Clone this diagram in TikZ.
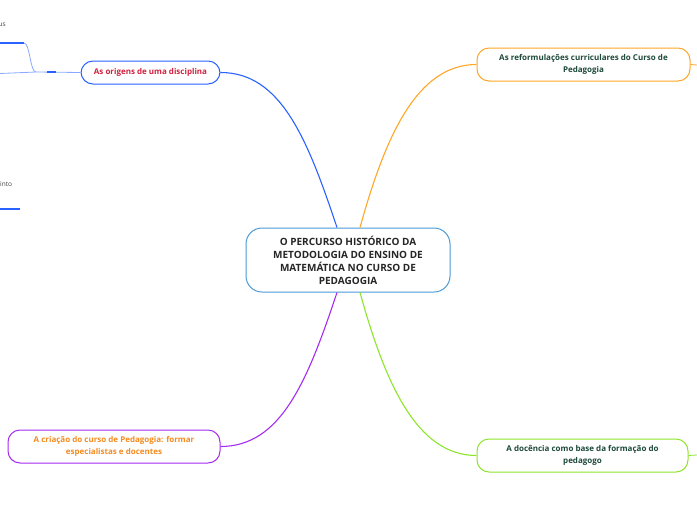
\documentclass[tikz,border=0pt]{standalone}
\usepackage{fontspec}
\setmainfont{Open Sans}
\definecolor{rootline}{HTML}{4A9AD8}
\definecolor{azul}{HTML}{2962FF}
\definecolor{azulclaro}{HTML}{8AA8FF}
\definecolor{laranja}{HTML}{FFA726}
\definecolor{verde}{HTML}{8EE62B}
\definecolor{roxo}{HTML}{A52CF0}
\definecolor{vermelho}{HTML}{D0213F}
\definecolor{verdeescuro}{HTML}{1D4A3A}
\definecolor{laranjatexto}{HTML}{F58B1F}
\begin{document}
\begin{tikzpicture}[x=1pt,y=-1pt,
  topic/.style={draw,line width=1pt,rounded corners=12pt,fill=white,align=center,
    font=\fontsize{8}{11.5}\selectfont\bfseries,inner sep=0pt},
  ramo/.style={line width=1.1pt}]
  \useasboundingbox[fill=white] (0,0) rectangle (697,520);
  \node[topic,draw=rootline,rounded corners=16pt,minimum width=204pt,minimum height=64pt,
    font=\fontsize{10}{13}\selectfont\bfseries,text=black!85] (root) at (348,260)
    {O PERCURSO HISTÓRICO DA\\METODOLOGIA DO ENSINO DE\\MATEMÁTICA NO CURSO DE\\PEDAGOGIA};
  \node[topic,draw=azul,minimum width=139pt,minimum height=23pt,text=vermelho] (origens) at (150.5,72.5)
    {As origens de uma disciplina};
  \node[topic,draw=laranja,minimum width=213pt,minimum height=33pt,text=verdeescuro] (reform) at (583.5,64.5)
    {As reformulações curriculares do Curso de\\Pedagogia};
  \node[topic,draw=verde,minimum width=211pt,minimum height=33pt,text=verdeescuro] (docencia) at (582.5,455.5)
    {A docência como base da formação do\\pedagogo};
  \node[topic,draw=roxo,minimum width=212pt,minimum height=33pt,text=laranjatexto] (criacao) at (114,446.5)
    {A criação do curso de Pedagogia: formar\\especialistas e docentes};
  % ramos principais
  \draw[ramo,azul] ([xshift=-11pt]root.north) .. controls +(-30,-90) and +(60,0) .. (origens.east);
  \draw[ramo,laranja] ([xshift=12pt]root.north) .. controls +(25,-90) and +(-60,0) .. (reform.west);
  \draw[ramo,roxo] ([xshift=-11pt]root.south) .. controls +(-30,90) and +(60,0) .. (criacao.east);
  \draw[ramo,verde] ([xshift=12pt]root.south) .. controls +(25,90) and +(-60,0) .. (docencia.west);
  % pontas que saem da figura
  \coordinate (fimreform) at (697,65);
  \coordinate (fimdocencia) at (697,455);
  \draw[laranja,line width=0.8pt] (reform.east) -- (fimreform);
  \draw[verde,line width=0.8pt] (docencia.east) -- (fimdocencia);
  % sub-ramos a esquerda
  \coordinate (fork) at (36,72);
  \coordinate (sub1) at (24,43);
  \coordinate (sub1fim) at (0,43);
  \coordinate (sub2fim) at (0,73.5);
  \coordinate (sub3) at (20,209);
  \coordinate (sub3fim) at (0,209);
  \draw[azulclaro,line width=0.8pt] (origens.west) -- (fork) -- (sub2fim);
  \draw[azul,line width=1.6pt] (47,72) -- (56,72);
  \draw[azulclaro,line width=0.8pt] (fork) .. controls +(-6,0) and +(6,0) .. (sub1);
  \draw[azul,line width=1.4pt] (sub1) -- (sub1fim);
  \draw[azul,line width=1.4pt] (sub3) -- (sub3fim);
  \node[anchor=east,inner sep=0pt,font=\fontsize{6.5}{8}\selectfont,text=black!75] (txt1) at (6,25) {us};
  \node[anchor=west,inner sep=0pt,font=\fontsize{6.5}{8}\selectfont,text=black!75] (txt2) at (0,184) {into};
\end{tikzpicture}
\end{document}
